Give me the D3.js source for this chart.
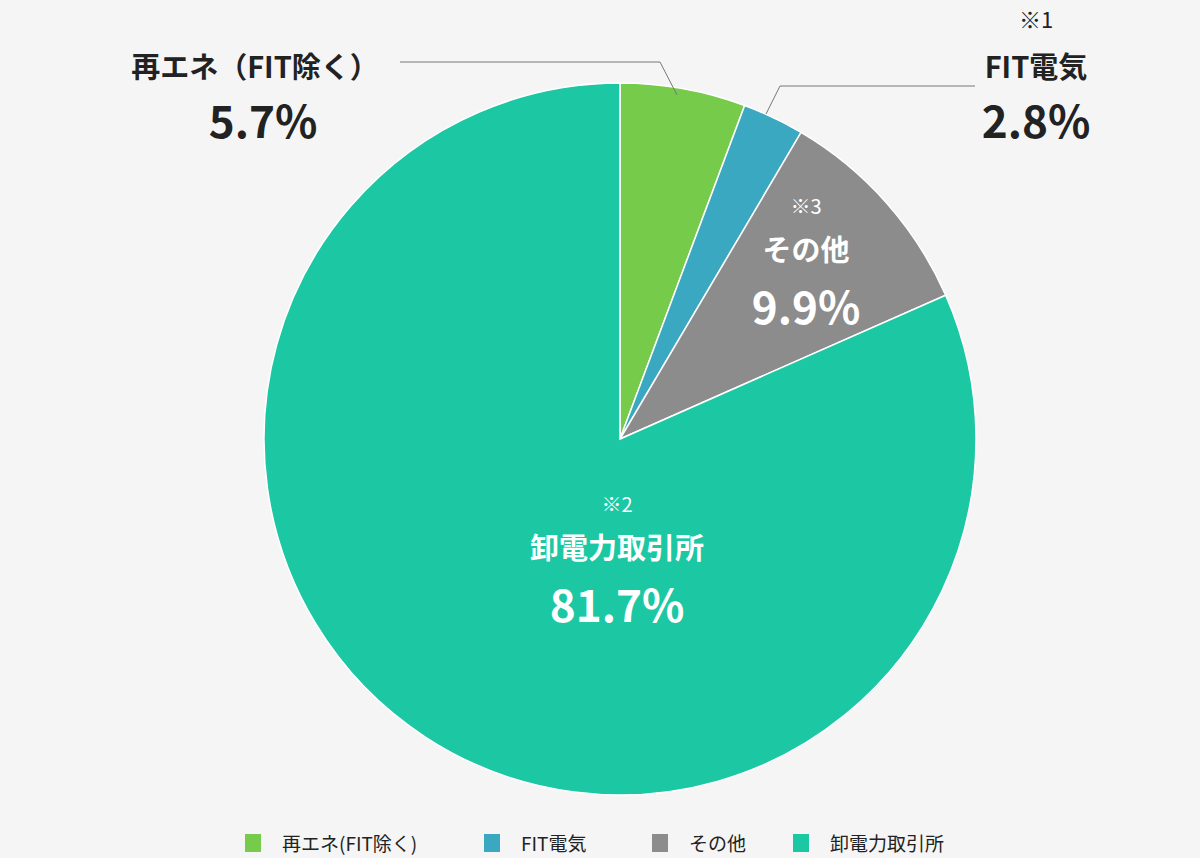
<!DOCTYPE html>
<html><head><meta charset="utf-8">
<script src="https://cdn.jsdelivr.net/npm/d3@7"></script>
<style>
body{margin:0;background:#f5f5f5;font-family:"Noto Sans CJK JP","Noto Sans",sans-serif;}
</style></head><body>
<div id="chart"></div>
<script>
const labels = ["再エネ(FIT除く)", "FIT電気", "その他", "卸電力取引所"];
const values = [5.7, 2.8, 9.9, 81.7];
const notes = ["", "※1", "※3", "※2"];
const colors = ["#76cc4a", "#3aa8c1", "#8c8c8c", "#1cc8a4"];

const W = 1200, H = 858, cx = 620, cy = 439, R = 356;
const svg = d3.select("#chart").append("svg").attr("width", W).attr("height", H);
const g = svg.append("g").attr("transform", `translate(${cx},${cy})`);

const pie = d3.pie().sort(null).value(d => d)(values);
const arc = d3.arc().innerRadius(0).outerRadius(R);

g.selectAll("path").data(pie).join("path")
  .attr("d", arc)
  .attr("fill", (d, i) => colors[i])
  .attr("stroke", "#fff").attr("stroke-width", 1.5);

// outside labels with leader lines
const fmt = v => v.toFixed(1) + "%";
function leader(i, pts) {
  svg.append("polyline").attr("points", pts.map(p => p.join(",")).join(" "))
    .attr("fill", "none").attr("stroke", "#777").attr("stroke-width", 1);
}
// 再エネ
const a0 = arc.centroid(pie[0]);
const p0 = [cx + a0[0] * 1.45, cy + a0[1] * 1.0];
leader(0, [[400, 62], [660, 62], [677, 95]]);
svg.append("text").attr("x", 255).attr("y", 78).attr("text-anchor", "middle")
  .attr("font-size", 29).attr("font-weight", 700).attr("fill", "#222").text("再エネ（FIT除く）");
svg.append("text").attr("x", 263).attr("y", 138).attr("text-anchor", "middle")
  .attr("font-size", 44).attr("font-weight", 700).attr("fill", "#222").text(fmt(values[0]));
// FIT
leader(1, [[975, 86], [780, 86], [766, 114]]);
svg.append("text").attr("x", 1036).attr("y", 28).attr("text-anchor", "middle")
  .attr("font-size", 22).attr("fill", "#222").text(notes[1]);
svg.append("text").attr("x", 1036).attr("y", 78).attr("text-anchor", "middle")
  .attr("font-size", 29).attr("font-weight", 700).attr("fill", "#222").text(labels[1]);
svg.append("text").attr("x", 1036).attr("y", 138).attr("text-anchor", "middle")
  .attr("font-size", 44).attr("font-weight", 700).attr("fill", "#222").text(fmt(values[1]));

// inside labels
const inside = [{i: 2, x: 806, y: 214}, {i: 3, x: 617, y: 512}];
inside.forEach(o => {
  svg.append("text").attr("x", o.x).attr("y", o.y).attr("text-anchor", "middle")
    .attr("font-size", 20).attr("fill", "#fff").text(notes[o.i]);
  svg.append("text").attr("x", o.x).attr("y", o.y + 47).attr("text-anchor", "middle")
    .attr("font-size", 29).attr("font-weight", 700).attr("fill", "#fff").text(labels[o.i]);
  svg.append("text").attr("x", o.x).attr("y", o.y + 110).attr("text-anchor", "middle")
    .attr("font-size", 44).attr("font-weight", 700).attr("fill", "#fff").text(fmt(values[o.i]));
});

// legend
const lx = [245, 484, 652, 793];
const lg = svg.append("g");
labels.forEach((l, i) => {
  lg.append("rect").attr("x", lx[i]).attr("y", 834).attr("width", 16).attr("height", 18).attr("fill", colors[i]);
  lg.append("text").attr("x", lx[i] + 37).attr("y", 851).attr("font-size", 19).attr("fill", "#222").text(l);
});
</script>
</body></html>
